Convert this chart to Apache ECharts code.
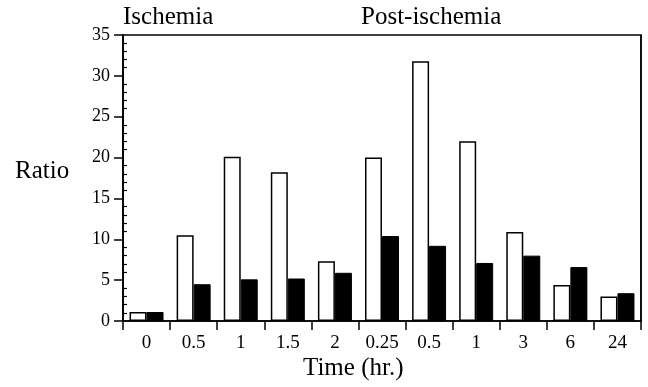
<!DOCTYPE html>
<html>
<head>
<meta charset="utf-8">
<script src="https://cdn.jsdelivr.net/npm/echarts@6/dist/echarts.min.js"></script>
<style>html,body{margin:0;padding:0;background:#fff}#c{width:648px;height:387px}</style>
</head>
<body>
<div id="c"></div>
<script>
var categories = ['0', '0.5', '1', '1.5', '2', '0.25', '0.5', '1', '3', '6', '24'];
var whiteValues = [1.1, 10.5, 20.1, 18.2, 7.3, 20.0, 31.8, 22.0, 10.9, 4.4, 3.0];
var blackValues = [1.1, 4.5, 5.1, 5.2, 5.9, 10.4, 9.2, 7.1, 8.0, 6.6, 3.4];
var yTicks = [0, 5, 10, 15, 20, 25, 30, 35];
var groupTitles = ['Ischemia', 'Post-ischemia'];
var yTitle = 'Ratio';
var xTitle = 'Time (hr.)';

var font = 'Liberation Serif';
var chart = echarts.init(document.getElementById('c'), null, {renderer: 'canvas'});
chart.setOption({
  animation: false,
  backgroundColor: '#fff',
  grid: {left: 123, right: 7, top: 35, bottom: 66, show: true, borderColor: '#000', borderWidth: 1.5, backgroundColor: 'transparent'},
  xAxis: {
    type: 'category',
    data: categories,
    axisLine: {lineStyle: {color: '#000', width: 1.5}},
    axisTick: {show: true, length: 9, lineStyle: {color: '#000', width: 1.5}},
    axisLabel: {color: '#000', fontFamily: font, fontSize: 19, margin: 13},
    splitLine: {show: true, interval: function (i) { return i === 5; }, lineStyle: {color: '#000', width: 1.5}}
  },
  yAxis: [{
    type: 'value', min: yTicks[0], max: yTicks[yTicks.length - 1], interval: 5,
    axisLine: {show: true, lineStyle: {color: '#000', width: 1.5}},
    axisTick: {show: true, length: 9, lineStyle: {color: '#000', width: 1.5}},
    axisLabel: {color: '#000', fontFamily: font, fontSize: 18, margin: 13},
    splitLine: {show: false}
  }, {
    type: 'value', position: 'left', min: yTicks[0], max: yTicks[yTicks.length - 1], interval: 5,
    axisLine: {show: false},
    axisTick: {show: false, inside: true},
    axisLabel: {show: false, inside: true},
    minorTick: {show: true, splitNumber: 5, length: 4, lineStyle: {color: '#000', width: 1.2}},
    splitLine: {show: false}
  }],
  graphic: [
    {type: 'text', x: 123, y: 17.6, style: {text: groupTitles[0], font: '25px "Liberation Serif"', fill: '#000', verticalAlign: 'middle'}},
    {type: 'text', x: 361, y: 17.6, style: {text: groupTitles[1], font: '25px "Liberation Serif"', fill: '#000', verticalAlign: 'middle'}},
    {type: 'text', x: 15, y: 171.6, style: {text: yTitle, font: '25px "Liberation Serif"', fill: '#000', verticalAlign: 'middle'}},
    {type: 'text', x: 303, y: 368.9, style: {text: xTitle, font: '25px "Liberation Serif"', fill: '#000', verticalAlign: 'middle'}}
  ],
  series: [{
    type: 'bar', data: whiteValues, barWidth: 17, barGap: '0%',
    itemStyle: {color: '#fff', borderColor: '#000', borderWidth: 1.5}
  }, {
    type: 'bar', data: blackValues, barWidth: 17, barGap: '0%',
    itemStyle: {color: '#000', borderColor: '#000', borderWidth: 1}
  }]
});
</script>
</body>
</html>
